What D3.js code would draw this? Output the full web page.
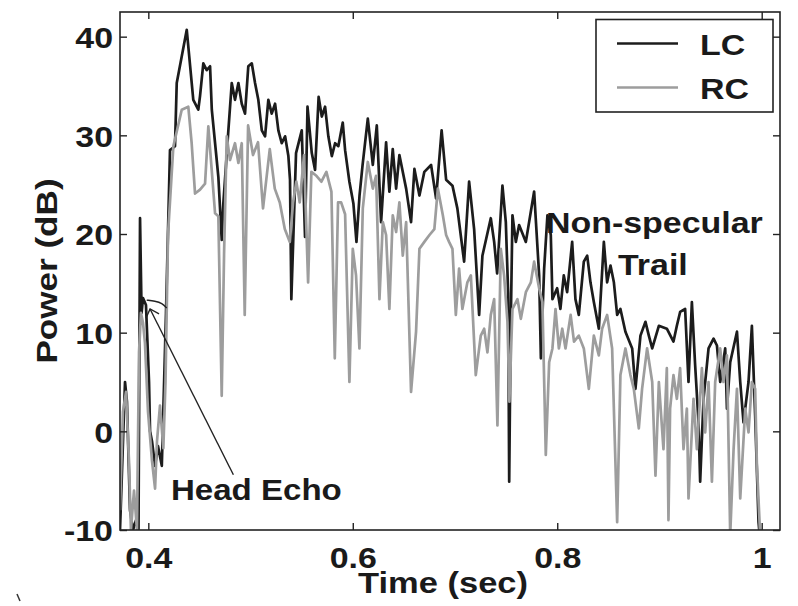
<!DOCTYPE html>
<html>
<head>
<meta charset="utf-8">
<script src="https://cdn.jsdelivr.net/npm/d3@7"></script>
<style>
  body { margin: 0; background: #fff; }
  text { font-family: "Liberation Sans", Arial, Helvetica, sans-serif; font-weight: bold; fill: #1a1a1a; }
</style>
</head>
<body>
<svg id="chart" width="798" height="606"></svg>
<script>
// Zeitachse in Sekunden, Leistung in dB
const lcData = [
  [0.3723,-10],[0.3772,5.0],[0.3791,3.0],[0.3821,-8],[0.3850,-10],[0.3880,-9],[0.3904,-10],
  [0.3919,21.6],[0.3934,12],[0.3948,13.5],[0.3977,12.8],[0.4007,5],[0.4017,0],[0.4036,-1],
  [0.4066,-3.5],[0.4095,-1.5],[0.4132,-3.5],[0.4173,12],[0.4212,28.5],[0.4261,28.9],[0.4278,35.3],
  [0.4376,40.7],[0.4440,33.6],[0.4489,32.6],[0.4506,34],[0.4538,37.3],[0.4571,36.6],[0.4604,37],
  [0.4621,32.6],[0.4669,27.5],[0.4685,25.8],[0.4718,19.4],[0.4734,23.1],[0.4783,30.5],[0.4816,35.3],
  [0.4848,33.6],[0.4881,35.3],[0.4914,33.2],[0.4946,32.2],[0.4978,37],[0.5012,37.3],[0.5044,35.3],
  [0.5076,33.6],[0.5110,30.5],[0.5142,29.9],[0.5174,33.6],[0.5207,32.2],[0.5240,33.2],[0.5272,30.5],
  [0.5305,29.2],[0.5338,29.9],[0.5370,27.9],[0.5386,25.5],[0.5399,13.4],[0.5445,28.2],[0.5501,30.5],
  [0.5533,19.7],[0.5557,32.9],[0.5599,28.2],[0.5631,26.5],[0.5666,33.9],[0.5697,31.9],[0.5729,32.9],
  [0.5761,29.9],[0.5795,27.9],[0.5827,29.2],[0.5859,28.9],[0.5902,31.3],[0.5925,28.5],[0.5967,25.3],
  [0.6006,23.1],[0.6036,19.2],[0.6066,23.9],[0.6096,27],[0.6147,31.7],[0.6196,27],[0.6235,31],
  [0.6277,21.2],[0.6326,29.3],[0.6358,24.3],[0.6391,28.6],[0.6424,24.6],[0.6456,28],[0.6522,24.6],
  [0.6570,21.2],[0.6603,26.6],[0.6652,23.9],[0.6700,26.3],[0.6766,27],[0.6815,23.6],[0.6869,30.5],
  [0.6913,25.5],[0.6975,24.9],[0.7023,22.6],[0.7089,17.2],[0.7138,25.3],[0.7187,20.5],[0.7236,11.8],
  [0.7268,17.8],[0.7350,21.6],[0.7383,19.2],[0.7412,16],[0.7464,24.9],[0.7497,21.2],[0.7520,14],
  [0.7530,-5.1],[0.7544,10],[0.7562,21.9],[0.7595,19.2],[0.7627,20.9],[0.7693,19.2],[0.7774,24.3],
  [0.7823,15.8],[0.7840,7.4],[0.7872,16.5],[0.7904,21.9],[0.7937,19.9],[0.7953,13.4],[0.7999,14.5],
  [0.8031,12.4],[0.8064,15.8],[0.8097,14.1],[0.8146,19.2],[0.8178,13.4],[0.8211,11.8],[0.8260,17.2],
  [0.8293,17.8],[0.8325,15.1],[0.8358,13.1],[0.8407,10.4],[0.8456,19.2],[0.8488,15.1],[0.8521,16.8],
  [0.8554,15.1],[0.8586,11.8],[0.8618,12.4],[0.8667,10.1],[0.8733,8.4],[0.8765,4.3],[0.8814,9.7],
  [0.8863,11.1],[0.8896,9.7],[0.8929,8.4],[0.8994,10.7],[0.9072,10.4],[0.9137,9.1],[0.9170,10.7],
  [0.9202,12.1],[0.9251,12.4],[0.9284,5.0],[0.9317,13.1],[0.9349,6.7],[0.9382,0.9],[0.9398,-5.1],
  [0.9431,3.3],[0.9480,8.4],[0.9529,9.4],[0.9562,8.7],[0.9594,5.0],[0.9643,8.4],[0.9660,2.3],
  [0.9692,7.0],[0.9758,10.1],[0.9790,5.0],[0.9822,0.9],[0.9871,5.0],[0.9904,10.7],[0.9936,1.6],
  [0.9969,-9.2],[0.9985,-11]
];

const rcData = [
  [0.3723,-8],[0.3752,2],[0.3782,4],[0.3811,-3],[0.3830,-10],[0.3860,-6],[0.3889,-10],[0.3909,8],
  [0.3928,12],[0.3948,11],[0.3967,9],[0.3997,2],[0.4036,-3],[0.4066,-5.8],[0.4085,-1],[0.4114,2.6],
  [0.4147,-1.7],[0.4168,5],[0.4193,20],[0.4245,28.9],[0.4327,32.6],[0.4391,32.9],[0.4424,29.2],
  [0.4457,24.1],[0.4506,24.5],[0.4555,25.1],[0.4587,30.9],[0.4620,26.5],[0.4653,22.1],[0.4685,21.8],
  [0.4718,3.6],[0.4741,18],[0.4767,29.9],[0.4799,27.5],[0.4848,29.2],[0.4881,27.2],[0.4914,29.2],
  [0.4943,11.8],[0.4976,31],[0.5024,28],[0.5073,29.3],[0.5122,22.6],[0.5188,28.6],[0.5237,24.6],
  [0.5286,23.2],[0.5335,20.5],[0.5384,19.2],[0.5416,23.2],[0.5448,25.3],[0.5481,23.2],[0.5523,28],
  [0.5563,15.1],[0.5595,26.3],[0.5644,25.9],[0.5693,25.3],[0.5742,26.3],[0.5791,24.3],[0.5824,7.4],
  [0.5856,23.2],[0.5886,23.2],[0.5925,22],[0.5967,5.0],[0.6000,18.5],[0.6032,15.8],[0.6065,8.4],
  [0.6098,22.6],[0.6147,27.3],[0.6196,24.6],[0.6228,25.9],[0.6261,13.4],[0.6294,21.2],[0.6326,19.9],
  [0.6358,12.4],[0.6391,21.9],[0.6424,20.2],[0.6456,23.2],[0.6489,17.8],[0.6522,21.2],[0.6570,4.0],
  [0.6619,10.1],[0.6652,18.5],[0.6700,19.2],[0.6750,19.9],[0.6798,20.5],[0.6832,24.6],[0.6881,21.9],
  [0.6913,19.9],[0.6942,19.2],[0.6975,18.5],[0.7008,11.8],[0.7040,16.5],[0.7072,12.4],[0.7121,15.1],
  [0.7155,15.8],[0.7203,5.7],[0.7252,9.7],[0.7285,10.4],[0.7317,8.0],[0.7350,11.8],[0.7383,13.4],
  [0.7415,0.6],[0.7448,18.5],[0.7480,15.8],[0.7513,11.1],[0.7532,3],[0.7562,12.4],[0.7611,13.4],
  [0.7644,11.4],[0.7693,14.1],[0.7742,15.1],[0.7774,17.2],[0.7823,14.5],[0.7855,13.1],[0.7888,-2.4],
  [0.7921,7.0],[0.7953,8.4],[0.7983,12.4],[0.8016,8.4],[0.8049,10.4],[0.8081,8.4],[0.8131,11.8],
  [0.8164,9.1],[0.8211,9.7],[0.8260,8.4],[0.8309,4.3],[0.8358,9.7],[0.8407,7.7],[0.8439,10.4],
  [0.8488,11.8],[0.8537,8.4],[0.8586,-9.2],[0.8618,5.7],[0.8667,8.4],[0.8716,5.7],[0.8749,4.3],
  [0.8798,0.3],[0.8830,4.3],[0.8879,8.4],[0.8929,5.0],[0.8961,-4.5],[0.8994,5.0],[0.9039,-1.8],
  [0.9072,6.4],[0.9088,-9],[0.9104,2.3],[0.9137,5.7],[0.9170,3.3],[0.9202,6.4],[0.9235,-1.8],
  [0.9268,2.3],[0.9284,-6.8],[0.9333,3.3],[0.9366,-1.8],[0.9415,6.4],[0.9447,-0.1],[0.9480,5.0],
  [0.9513,-5.1],[0.9545,5.0],[0.9594,8.4],[0.9626,5.0],[0.9660,7.7],[0.9692,-10.5],[0.9725,-1.8],
  [0.9758,4.3],[0.9790,-6.8],[0.9839,2.3],[0.9871,-0.1],[0.9904,5.0],[0.9936,4.3],[0.9953,-3.4],
  [0.9985,-10.5]
];

const xTicks = [0.4, 0.6, 0.8, 1.0];
const yTicks = [-10, 0, 10, 20, 30, 40];
const seriesNames = ["LC", "RC"];
const seriesColors = ["#1c1c1c", "#9d9d9d"];

// Annotation "Head Echo": Pfeil und Bogen am Kopfecho (Datenkoordinaten)
const headEchoArrow = [[0.4832, -4.4], [0.4017, 12.4]];
const headEchoArc = [[0.3984, 13.3], [0.4066, 13.2], [0.4135, 13.0], [0.4180, 12.5]];

const svg = d3.select("#chart");
const m = { left: 120, top: 12, right: 780, bottom: 530 };
const sx = 1.17; // Schrift wirkt breiter als Liberation Sans

const x = d3.scaleLinear().domain([0.3723, 1.0179]).range([m.left, m.right]);
const y = d3.scaleLinear().domain([-10, 42.5]).range([m.bottom, m.top]);

svg.append("defs").append("clipPath").attr("id", "clip")
  .append("rect")
  .attr("x", m.left).attr("y", m.top)
  .attr("width", m.right - m.left).attr("height", m.bottom - m.top);

const line = d3.line().x(d => x(d[0])).y(d => y(d[1]));

const plot = svg.append("g").attr("clip-path", "url(#clip)");
// LC zuerst, RC darueber (wie im Original)
[lcData, rcData].forEach((data, i) => {
  plot.append("path")
    .datum(data)
    .attr("fill", "none")
    .attr("stroke", seriesColors[i])
    .attr("stroke-width", 2.7)
    .attr("stroke-linejoin", "round")
    .attr("d", line);
});

// Achsen (Bindestrich statt Minuszeichen wie im Original)
const fmtX = d => (d === 1 ? "1" : d3.format(".1f")(d));
const fmtY = d => String(d);
const gx = svg.append("g").attr("transform", `translate(0,${m.bottom})`)
  .call(d3.axisBottom(x).tickValues(xTicks).tickFormat(fmtX).tickSize(-7).tickPadding(17));
const gy = svg.append("g").attr("transform", `translate(${m.left},0)`)
  .call(d3.axisLeft(y).tickValues(yTicks).tickFormat(fmtY).tickSize(-7).tickPadding(6));
const gxTop = svg.append("g").attr("transform", `translate(0,${m.top})`)
  .call(d3.axisTop(x).tickValues(xTicks).tickFormat("").tickSize(-7));
const gyRight = svg.append("g").attr("transform", `translate(${m.right},0)`)
  .call(d3.axisRight(y).tickValues(yTicks).tickFormat("").tickSize(-7));

[gx, gy, gxTop, gyRight].forEach(g => {
  g.select(".domain").remove();
  g.selectAll(".tick line").attr("stroke", "#222").attr("stroke-width", 1.4);
  g.selectAll(".tick text")
    .attr("font-size", 29)
    .attr("font-family", null)
    .attr("fill", "#1a1a1a")
    .attr("transform", `scale(${sx},1)`);
});
gy.selectAll(".tick text").attr("dy", "0.37em");

svg.append("rect")
  .attr("x", m.left).attr("y", m.top)
  .attr("width", m.right - m.left).attr("height", m.bottom - m.top)
  .attr("fill", "none").attr("stroke", "#222").attr("stroke-width", 1.6);

// Achsentitel
svg.append("text")
  .attr("transform", `translate(443,593) scale(1.15,1)`)
  .attr("text-anchor", "middle").attr("font-size", 30)
  .text("Time (sec)");
svg.append("text")
  .attr("transform", `translate(57,271) rotate(-90) scale(${sx},1)`)
  .attr("text-anchor", "middle").attr("font-size", 30)
  .text("Power (dB)");

// Legende
const leg = svg.append("g");
leg.append("rect")
  .attr("x", 596).attr("y", 19.5).attr("width", 177).attr("height", 92.5)
  .attr("fill", "#fff").attr("stroke", "#222").attr("stroke-width", 1.6);
seriesNames.forEach((name, i) => {
  const ly = 43.5 + i * 44;
  leg.append("line")
    .attr("x1", 617).attr("x2", 678).attr("y1", ly).attr("y2", ly)
    .attr("stroke", seriesColors[i]).attr("stroke-width", 2.7);
  leg.append("text")
    .attr("transform", `translate(700,${ly + 11.5}) scale(${sx},1)`)
    .attr("font-size", 29)
    .text(name);
});

// Beschriftungen im Plot
svg.append("text")
  .attr("transform", `translate(546,233) scale(${sx},1)`)
  .attr("font-size", 29).text("Non-specular");
svg.append("text")
  .attr("transform", `translate(618,275) scale(${sx},1)`)
  .attr("font-size", 29).text("Trail");
svg.append("text")
  .attr("transform", `translate(171,500) scale(1.14,1)`)
  .attr("font-size", 29).text("Head Echo");

svg.append("path")
  .datum(headEchoArrow)
  .attr("fill", "none").attr("stroke", "#222").attr("stroke-width", 1.4)
  .attr("d", line);
svg.append("path")
  .datum(headEchoArc)
  .attr("fill", "none").attr("stroke", "#222").attr("stroke-width", 1.4)
  .attr("d", d3.line().curve(d3.curveBasis).x(d => x(d[0])).y(d => y(d[1])));

// kleine Pfeilspitze
const tip = [x(headEchoArrow[1][0]), y(headEchoArrow[1][1])];
svg.append("path")
  .attr("fill", "none").attr("stroke", "#222").attr("stroke-width", 1.4)
  .attr("d", `M ${tip[0] - 4} ${tip[1] + 9} L ${tip[0]} ${tip[1]} L ${tip[0] + 9} ${tip[1] + 5}`);

// Scanrest unten links
svg.append("path")
  .attr("fill", "none").attr("stroke", "#333").attr("stroke-width", 1.5)
  .attr("d", "M 17 594 L 20 601");
</script>
</body>
</html>
